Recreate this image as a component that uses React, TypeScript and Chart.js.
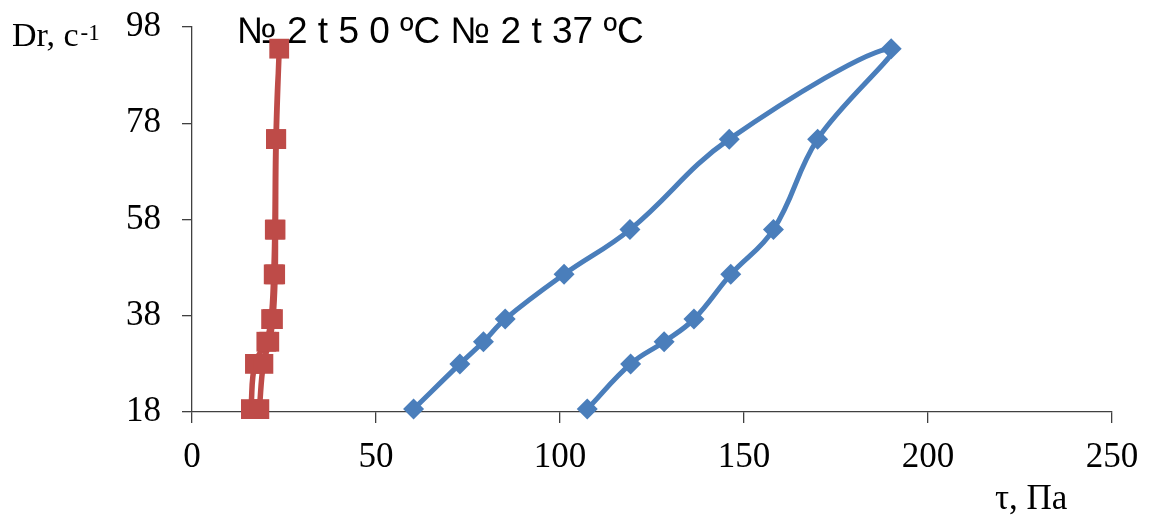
import React, { useEffect, useRef } from "react";
import { Chart, registerables } from "chart.js";

Chart.register(...registerables);

const shearRate = [18.6, 28.0, 32.6, 37.3, 46.6, 55.9, 74.7, 93.5, 74.7, 55.9, 46.6, 37.3, 32.6, 28.0, 18.6];
const tau5 = [16.0, 17.1, 20.2, 21.5, 22.2, 22.5, 22.8, 23.7, 22.9, 22.7, 22.6, 22.0, 21.0, 19.4, 18.3];
const tau37 = [60.2, 72.8, 79.2, 85.1, 101.1, 119.0, 146.0, 190.0, 170.0, 158.0, 146.4, 136.4, 128.3, 119.2, 107.4];
const legendLabels = ["№ 2 t 5 0 ºC", "№ 2 t 37 ºC"];
const xTitle = "τ, Па";
const yTitleMain = "Dr, с";
const yTitleSup = "-1";

const SERIF = '"Liberation Serif", "Times New Roman", serif';
const SANS = '"Liberation Sans", Arial, sans-serif';

const textPlugin = {
  id: "texts",
  beforeDatasetsDraw(chart: any) {
    const ctx = chart.ctx;
    ctx.save();
    ctx.fillStyle = "#000";
    ctx.textBaseline = "alphabetic";
    ctx.textAlign = "left";
    ctx.font = `37px ${SANS}`;
    ctx.fillText(legendLabels.join(" "), 237, 43);
    ctx.restore();
  },
  afterDraw(chart: any) {
    const ctx = chart.ctx;
    ctx.save();
    ctx.fillStyle = "#000";
    ctx.textBaseline = "alphabetic";
    ctx.textAlign = "left";
    ctx.font = `34px ${SERIF}`;
    ctx.fillText(yTitleMain, 12, 46);
    const w = ctx.measureText(yTitleMain).width;
    ctx.font = `23px ${SERIF}`;
    ctx.fillText(yTitleSup, 12 + w + 2, 40);
    ctx.font = `35px ${SERIF}`;
    ctx.fillText(xTitle, 995, 509);
    ctx.restore();
  },
};

export default function App() {
  const ref = useRef<HTMLCanvasElement>(null);
  useEffect(() => {
    document.body.style.margin = "0";
    const mk = (xs: number[]) => xs.map((x, i) => ({ x, y: shearRate[i] }));
    const noPad = (scale: any) => {
      scale.paddingTop = 0;
      scale.paddingBottom = 0;
      scale.paddingLeft = 0;
      scale.paddingRight = 0;
    };
    const chart = new Chart(ref.current!, {
      type: "scatter",
      data: {
        datasets: [
          {
            label: legendLabels[1],
            data: mk(tau37),
            showLine: true,
            borderColor: "#4A7EBB",
            backgroundColor: "#4A7EBB",
            borderWidth: 5,
            tension: 0.4,
            pointStyle: "rectRot",
            pointRadius: 10.5,
            pointBorderWidth: 0,
            clip: false as any,
          },
          {
            label: legendLabels[0],
            data: mk(tau5),
            showLine: true,
            borderColor: "#BE4B48",
            backgroundColor: "#BE4B48",
            borderWidth: 5.5,
            tension: 0.4,
            pointStyle: "rect",
            pointRadius: 14,
            pointBorderWidth: 0,
            clip: false as any,
          },
        ],
      },
      options: {
        animation: false,
        responsive: false,
        maintainAspectRatio: false,
        layout: { padding: { left: 0, right: 38, top: 27, bottom: 0 } },
        plugins: { legend: { display: false }, tooltip: { enabled: false }, title: { display: false } },
        scales: {
          x: {
            type: "linear",
            min: 0,
            max: 250,
            ticks: { stepSize: 50, font: { family: SERIF, size: 35 }, color: "#000", padding: 14, maxRotation: 0 },
            grid: { drawOnChartArea: false, drawTicks: true, tickLength: 11, color: "#404040", lineWidth: 1.3 },
            border: { color: "#404040", width: 1.3 },
            afterFit(scale: any) {
              scale.height = 515 - 412;
              noPad(scale);
            },
          },
          y: {
            type: "linear",
            min: 18,
            max: 98,
            ticks: { stepSize: 20, font: { family: SERIF, size: 35 }, color: "#000", padding: 21 },
            grid: { drawOnChartArea: false, drawTicks: true, tickLength: 10, color: "#404040", lineWidth: 1.3 },
            border: { color: "#404040", width: 1.3 },
            afterFit(scale: any) {
              scale.width = 192;
              noPad(scale);
            },
          },
        },
      },
      plugins: [textPlugin],
    } as any);
    return () => chart.destroy();
  }, []);
  return (
    <div style={{ position: "absolute", left: 0, top: 0, width: 1150, height: 515, background: "#fff" }}>
      <canvas ref={ref} width={1150} height={515} />
    </div>
  );
}
